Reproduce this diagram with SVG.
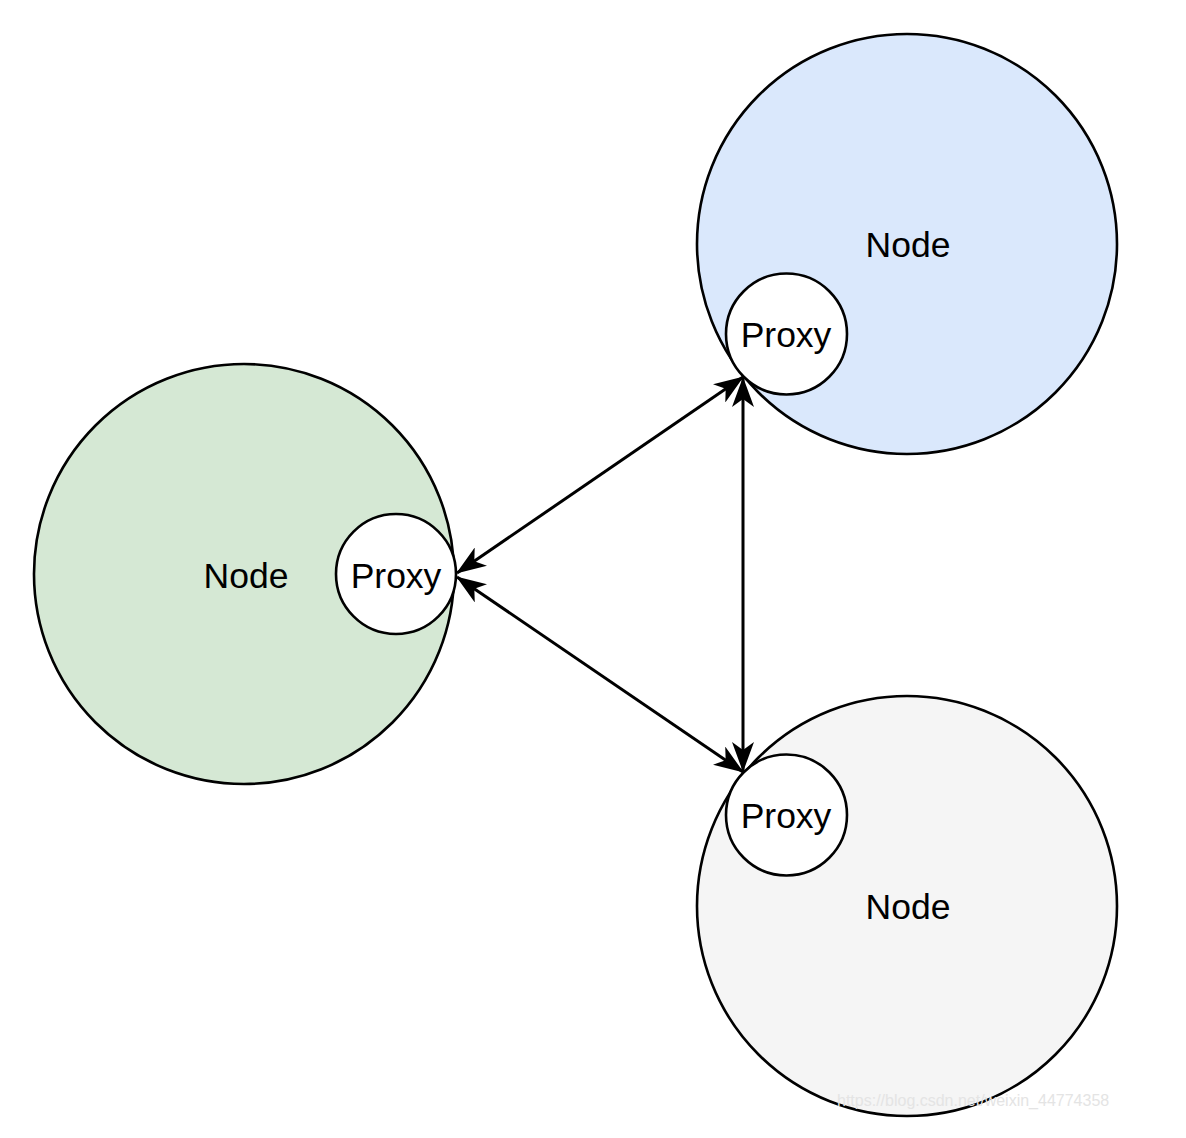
<svg xmlns="http://www.w3.org/2000/svg" width="1186" height="1138" viewBox="0 0 1186 1138">
<style>
.big{stroke:#000;stroke-width:2.6}
.proxy{fill:#fff;stroke:#000;stroke-width:2.6}
.t{font-family:"Liberation Sans",Arial,sans-serif;font-size:35.5px;text-anchor:middle;fill:#000}
.edge{stroke:#000;stroke-width:3;fill:none;marker-start:url(#arr);marker-end:url(#arr)}
</style>
<defs>
<marker id="arr" markerUnits="userSpaceOnUse" viewBox="0 0 30 22" refX="29" refY="11" markerWidth="30" markerHeight="22" orient="auto-start-reverse">
<path d="M0,0 L30,11 L0,22 L8,11 Z" fill="#000"/>
</marker>
</defs>
<rect width="1186" height="1138" fill="#fff"/>
<g id="node-blue">
<circle class="big" cx="907" cy="244" r="210" fill="#dae8fc"/>
<text class="t" x="908" y="257">Node</text>
</g>
<g id="node-green">
<circle class="big" cx="244" cy="574" r="210" fill="#d5e8d4"/>
<text class="t" x="246" y="588">Node</text>
</g>
<g id="node-gray">
<circle class="big" cx="907" cy="906" r="210" fill="#f5f5f5"/>
<text class="t" x="908" y="919" fill="#333">Node</text>
</g>
<g id="proxy-top">
<circle class="proxy" cx="786.5" cy="334" r="60.5"/>
<text class="t" x="786" y="347">Proxy</text>
</g>
<g id="proxy-left">
<circle class="proxy" cx="396" cy="574" r="60"/>
<text class="t" x="396" y="588">Proxy</text>
</g>
<g id="proxy-bottom">
<circle class="proxy" cx="786.5" cy="815" r="60.5"/>
<text class="t" x="786" y="828">Proxy</text>
</g>
<g id="connectors">
<line class="edge" x1="457" y1="573" x2="743" y2="377"/>
<line class="edge" x1="457" y1="577" x2="743" y2="772"/>
<line class="edge" x1="743" y1="378" x2="743" y2="771"/>
</g>
<text x="837" y="1106" font-family="'Liberation Sans',Arial,sans-serif" font-size="16" fill="#e4e4e4">https://blog.csdn.net/weixin_44774358</text>
</svg>
